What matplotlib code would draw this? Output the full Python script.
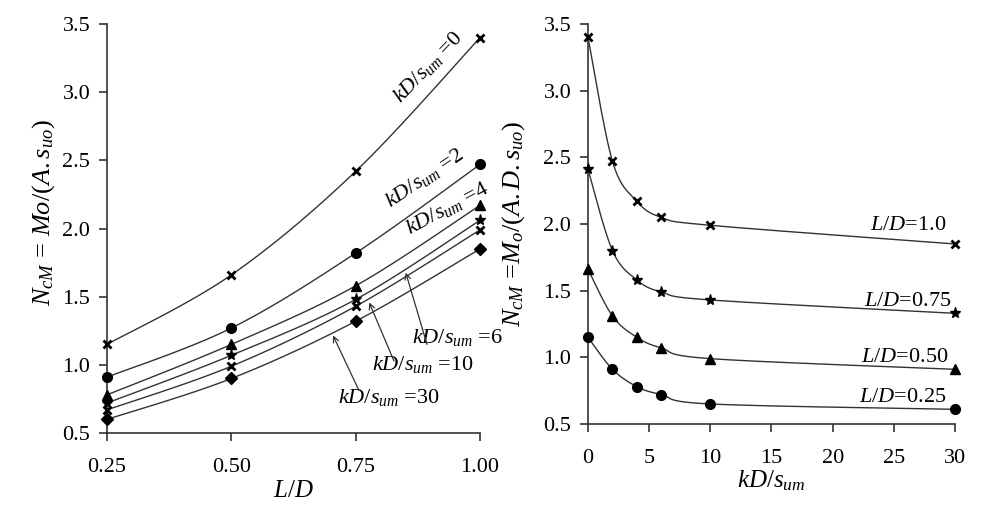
import numpy as np
import matplotlib
matplotlib.use("Agg")
import matplotlib.pyplot as plt

plt.rcParams['font.family'] = 'Liberation Serif'
plt.rcParams['mathtext.fontset'] = 'custom'
plt.rcParams['mathtext.rm'] = 'Liberation Serif'
plt.rcParams['mathtext.it'] = 'Liberation Serif:italic'

# left panel: N_cM vs L/D for several kD/s_um
ld = [0.25, 0.50, 0.75, 1.00]
left_k0 = [1.15, 1.66, 2.42, 3.40]
left_k2 = [0.91, 1.27, 1.82, 2.47]
left_k4 = [0.78, 1.15, 1.58, 2.17]
left_k6 = [0.72, 1.07, 1.48, 2.06]
left_k10 = [0.67, 0.99, 1.43, 1.99]
left_k30 = [0.60, 0.90, 1.32, 1.85]

# right panel: N_cM vs kD/s_um for several L/D
kd = [0, 2, 4, 6, 10, 30]
right_ld100 = [3.40, 2.47, 2.17, 2.05, 1.99, 1.85]
right_ld075 = [2.41, 1.80, 1.58, 1.49, 1.43, 1.33]
right_ld050 = [1.66, 1.31, 1.15, 1.07, 0.99, 0.91]
right_ld025 = [1.15, 0.91, 0.78, 0.72, 0.65, 0.61]


def smooth(x, y, n=30):
    # excel-like smoothed line through the points (bezier, catmull-rom tangents)
    p = np.column_stack([x, y]).astype(float)
    out = []
    for i in range(len(p) - 1):
        p0 = p[i - 1] if i > 0 else p[i]
        p1, p2 = p[i], p[i + 1]
        p3 = p[i + 2] if i + 2 < len(p) else p[i + 1]
        c1 = p1 + (p2 - p0) / 6
        c2 = p2 - (p3 - p1) / 6
        t = np.linspace(0, 1, n)[:, None]
        seg = (1 - t) ** 3 * p1 + 3 * (1 - t) ** 2 * t * c1 + 3 * (1 - t) * t ** 2 * c2 + t ** 3 * p2
        out.append(seg if i == 0 else seg[1:])
    out = np.vstack(out)
    return out[:, 0], out[:, 1]


def draw(ax, x, y, marker, ms):
    sx, sy = smooth(x, y)
    ax.plot(sx, sy, color='#333333', lw=1.0, zorder=2)
    mew = 2.0 if marker == 'x' else 1.0
    ax.plot(x, y, ls='none', marker=marker, ms=ms, color='black', mew=mew, zorder=3, clip_on=False)


fig = plt.figure(figsize=(10.02, 5.11), dpi=100)
ax1 = fig.add_axes([0.1068, 0.1526, 0.3723, 0.8004])
ax2 = fig.add_axes([0.5868, 0.1703, 0.3663, 0.7828])

for ax in (ax1, ax2):
    for s in ('top', 'right'):
        ax.spines[s].set_visible(False)
    for s in ('left', 'bottom'):
        ax.spines[s].set_color('#333333')
        ax.spines[s].set_linewidth(1.2)
    ax.tick_params(direction='out', length=6, width=1.2, color='#333333', labelsize=16, pad=6)
    ax.tick_params(axis='x', pad=12)
    ax.set_ylim(0.5, 3.5)
    ax.set_yticks([0.5, 1.0, 1.5, 2.0, 2.5, 3.0, 3.5])
    ax.set_yticklabels(['0.5', '1.0', '1.5', '2.0', '2.5', '3.0', '3.5'])

draw(ax1, ld, left_k0, 'x', 6)
draw(ax1, ld, left_k2, 'o', 7)
draw(ax1, ld, left_k4, '^', 7)
draw(ax1, ld, left_k6, '*', 8)
draw(ax1, ld, left_k10, 'x', 6)
draw(ax1, ld, left_k30, 'D', 6)
ax1.set_xlim(0.25, 1.0)
ax1.set_xticks(ld)
ax1.set_xticklabels(['0.25', '0.50', '0.75', '1.00'])
ax1.set_xlabel('$L/D$', fontsize=18, labelpad=2)
ax1.set_ylabel('$N_{cM}$ = $Mo/(A.s_{uo})$', fontsize=19)
ax1.yaxis.set_label_coords(-0.135, 0.54)

fs = 16
ax1.text(0.895, 3.185, '$kD/s_{um}$ =0', rotation=46, fontsize=fs, ha='center', va='center')
ax1.text(0.889, 2.37, '$kD/s_{um}$ =2', rotation=34, fontsize=fs, ha='center', va='center')
ax1.text(0.934, 2.15, '$kD/s_{um}$ =4', rotation=28, fontsize=fs, ha='center', va='center')
ax1.text(0.954, 1.20, '$kD/s_{um}$ =6', fontsize=fs, ha='center', va='center', clip_on=False)
ax1.text(0.885, 1.00, '$kD/s_{um}$ =10', fontsize=fs, ha='center', va='center')
ax1.text(0.817, 0.76, '$kD/s_{um}$ =30', fontsize=fs, ha='center', va='center')
arrow = dict(arrowstyle='->', color='#333333', lw=0.9)
ax1.annotate('', xy=(0.849, 1.696), xytext=(0.895, 1.13), arrowprops=arrow)
ax1.annotate('', xy=(0.775, 1.476), xytext=(0.829, 1.01), arrowprops=arrow)
ax1.annotate('', xy=(0.702, 1.234), xytext=(0.759, 0.793), arrowprops=arrow)

draw(ax2, kd, right_ld100, 'x', 6)
draw(ax2, kd, right_ld075, '*', 8)
draw(ax2, kd, right_ld050, '^', 7)
draw(ax2, kd, right_ld025, 'o', 7)
ax2.set_xlim(0, 30)
ax2.set_xticks([0, 5, 10, 15, 20, 25, 30])
ax2.set_xlabel('$kD/s_{um}$', fontsize=18, labelpad=0)
ax2.set_ylabel('$N_{cM}$ =$M_o/(A.D.s_{uo})$', fontsize=19)
ax2.yaxis.set_label_coords(-0.165, 0.5)

ax2.text(26.2, 1.99, '$L/D$=1.0', fontsize=fs, ha='center', va='center')
ax2.text(26.1, 1.415, '$L/D$=0.75', fontsize=fs, ha='center', va='center')
ax2.text(25.9, 0.995, '$L/D$=0.50', fontsize=fs, ha='center', va='center')
ax2.text(25.7, 0.70, '$L/D$=0.25', fontsize=fs, ha='center', va='center')

fig.savefig('out.png', dpi=100)
